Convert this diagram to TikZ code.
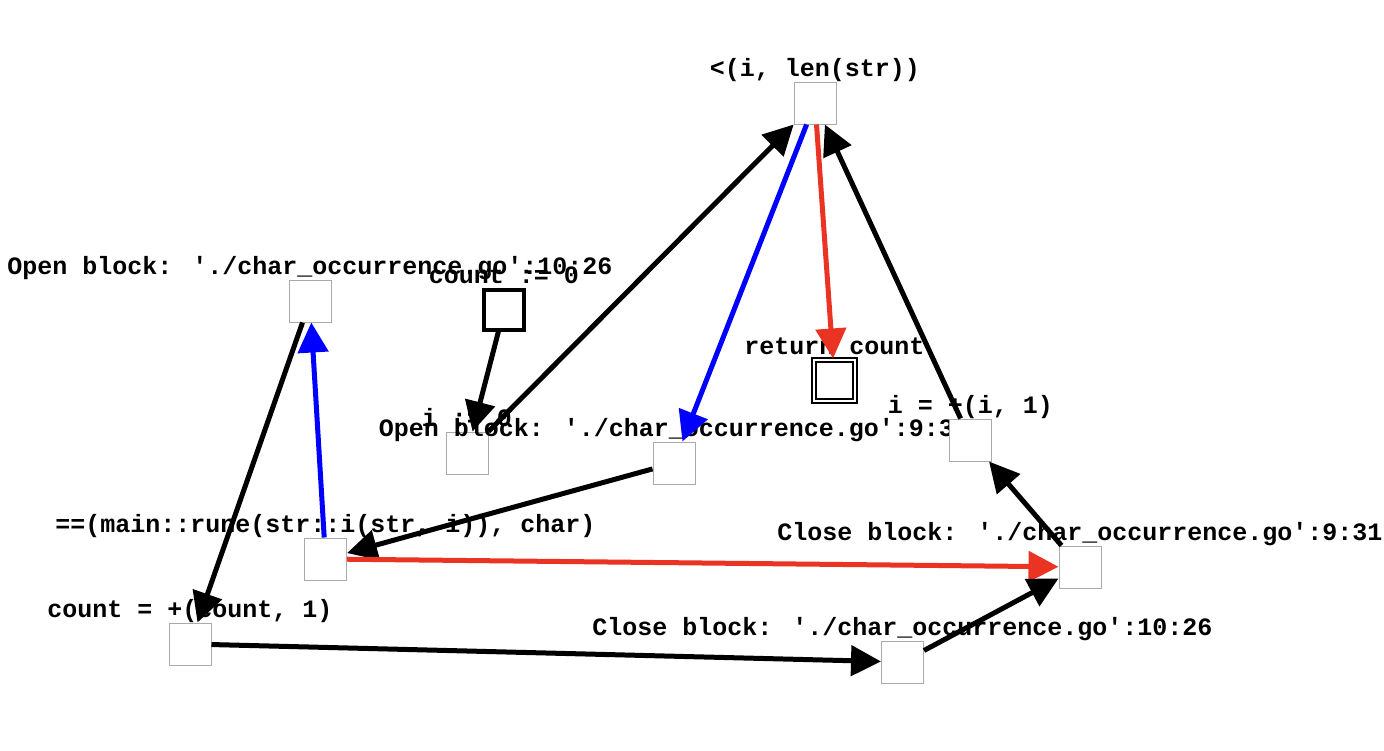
\documentclass[tikz,border=0pt]{standalone}
\usepackage{fontspec}
\newfontfamily\lblfont{Liberation Mono}
\usetikzlibrary{arrows.meta}
\definecolor{ered}{RGB}{234,51,35}
\definecolor{eblue}{RGB}{0,0,255}
\definecolor{boxgray}{RGB}{170,170,170}
\begin{document}
\begin{tikzpicture}[x=1pt,y=-1pt,
  plainbox/.style={rectangle, draw=boxgray, fill=white, line width=1pt, minimum size=42pt, inner sep=0pt},
  startbox/.style={rectangle, draw=black, fill=white, line width=3.5pt, minimum size=40pt, inner sep=0pt},
  finalbox/.style={rectangle, draw=black, double=white, double distance=2pt, line width=2pt, minimum size=41pt, inner sep=0pt},
  lbl/.style={anchor=base, inner sep=0pt, font=\lblfont\bfseries\fontsize{25}{25}\selectfont},
  edge/.style={line width=5pt, -{Triangle[length=30pt,width=30pt]}},
]
\useasboundingbox (0,0) rectangle (1384,750);

\node[plainbox] (top) at (815,103) {};
\node[lbl] (topl) at (815,76) {<(i, len(str))};

\node[plainbox] (open10) at (310,301) {};
\node[lbl] (open10l) at (310,274) {Open block: './char\_occurrence.go':10:26};

\node[startbox] (count0) at (504,310) {};
\node[lbl] (count0l) at (504,283) {count := 0};

\node[finalbox] (ret) at (834.5,380) {};
\node[lbl] (retl) at (834.5,354) {return count};

\node[plainbox] (i0) at (467,453) {};
\node[lbl] (i0l) at (467,426) {i := 0};

\node[plainbox] (open9) at (674,463) {};
\node[lbl] (open9l) at (674,436) {Open block: './char\_occurrence.go':9:31};

\node[plainbox] (iplus) at (970.5,440) {};
\node[lbl] (iplusl) at (970.5,413) {i = +(i, 1)};

\node[plainbox] (eq) at (325.5,559) {};
\node[lbl] (eql) at (325.5,532.5) {==(main::rune(str::i(str, i)), char)};

\node[plainbox] (close9) at (1080,567) {};
\node[lbl] (close9l) at (1080,540) {Close block: './char\_occurrence.go':9:31};

\node[plainbox] (cplus) at (190,644) {};
\node[lbl] (cplusl) at (190,617.5) {count = +(count, 1)};

\node[plainbox] (close10) at (902.5,662) {};
\node[lbl] (close10l) at (902.5,635) {Close block: './char\_occurrence.go':10:26};

\draw[edge] (count0) -- (i0);
\draw[edge] (i0) -- (top);
\draw[edge, eblue] (top) -- (open9);
\draw[edge, ered] (top) -- (ret);
\draw[edge] (iplus) -- (top);
\draw[edge] (open9) -- (eq);
\draw[edge, eblue] (eq) -- (open10);
\draw[edge, ered] (eq) -- (close9);
\draw[edge] (open10) -- (cplus);
\draw[edge] (cplus) -- (close10);
\draw[edge] (close10) -- (close9);
\draw[edge] (close9) -- (iplus);
\end{tikzpicture}
\end{document}
